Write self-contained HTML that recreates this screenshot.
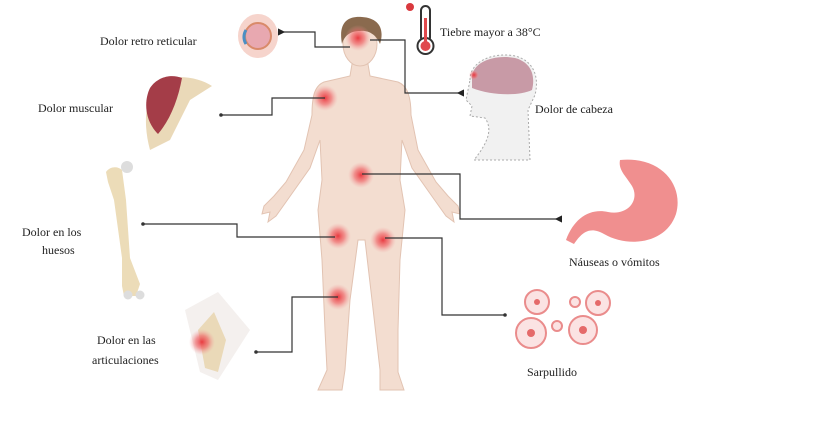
<!DOCTYPE html>
<html><head><meta charset="utf-8"><style>
html,body{margin:0;padding:0;background:#fff}
svg{display:block}
text{font-family:"Liberation Serif",serif;font-size:12px;fill:#222}
</style></head><body>
<svg width="836" height="446" viewBox="0 0 836 446" xmlns="http://www.w3.org/2000/svg">
<defs>
<radialGradient id="pain"><stop offset="0" stop-color="#e8333a" stop-opacity="0.95"/><stop offset="0.5" stop-color="#ef5a5e" stop-opacity="0.6"/><stop offset="1" stop-color="#f2a0a0" stop-opacity="0"/></radialGradient>
<marker id="ar" markerWidth="6" markerHeight="6" refX="1" refY="3" orient="auto-start-reverse"><path d="M6,0 L0,3 L6,6z" fill="#222"/></marker>
</defs>
<rect width="836" height="446" fill="#fff"/>
<!-- body -->
<g fill="#f3ddd0" stroke="#e2c3b2" stroke-width="1">
<path d="M352,64 L368,64 L370,76 L398,82 C408,86 411,98 411,115 L418,150 L436,182 L448,196 L458,206 L460,214 L452,212 L454,222 L446,216 L436,202 L412,168 L402,140 L400,180 L405,210 L400,260 L398,330 L398,372 L404,390 L380,390 L380,370 L372,300 L365,240 L358,240 L350,300 L345,370 L342,390 L318,390 L327,370 L325,330 L322,260 L318,210 L322,180 L320,140 L310,168 L286,202 L276,216 L268,222 L270,212 L262,214 L264,206 L274,196 L286,182 L304,150 L312,115 C312,98 314,86 324,82 L350,76 Z"/>
<ellipse cx="360" cy="44" rx="17" ry="22"/>
</g>
<path d="M342,44 C338,22 348,16 362,17 C378,18 385,28 380,44 C376,34 368,30 360,31 C350,31 344,36 342,44Z" fill="#8a6a4e"/>
<g>
<circle cx="358" cy="38" r="13" fill="url(#pain)"/>
<circle cx="325" cy="98" r="13" fill="url(#pain)"/>
<circle cx="361" cy="175" r="13" fill="url(#pain)"/>
<circle cx="338" cy="236" r="13" fill="url(#pain)"/>
<circle cx="383" cy="240" r="13" fill="url(#pain)"/>
<circle cx="338" cy="297" r="13" fill="url(#pain)"/>
</g>
<!-- connectors -->
<g fill="none" stroke="#333" stroke-width="1.2">
<path d="M350,47 L315,47 L315,32 L284,32" marker-end="url(#ar)"/>
<path d="M370,40 L405,40 L405,93 L458,93" marker-end="url(#ar)"/>
<path d="M325,98 L272,98 L272,115 L221,115"/>
<path d="M362,174 L460,174 L460,219 L556,219" marker-end="url(#ar)"/>
<path d="M335,237 L237,237 L237,224 L143,224"/>
<path d="M385,238 L442,238 L442,315 L505,315"/>
<path d="M338,297 L292,297 L292,352 L256,352"/>
</g>
<g fill="#333"><circle cx="221" cy="115" r="1.8"/><circle cx="143" cy="224" r="1.8"/><circle cx="505" cy="315" r="1.8"/><circle cx="256" cy="352" r="1.8"/></g>
<!-- eye -->
<ellipse cx="258" cy="36" rx="20" ry="22" fill="#f6d4cc"/>
<circle cx="258" cy="36" r="13" fill="#e8a8b0" stroke="#d98a6a" stroke-width="2"/>
<path d="M246,30 A13,13 0 0 0 246,44" stroke="#4b8fc4" stroke-width="3" fill="none"/>
<!-- thermometer -->
<circle cx="410" cy="7" r="4" fill="#d9393e"/>
<rect x="421" y="6" width="9" height="36" rx="4.5" fill="#fff" stroke="#333" stroke-width="2"/>
<circle cx="425.5" cy="46" r="8" fill="#fff" stroke="#333" stroke-width="2"/>
<circle cx="425.5" cy="46" r="5" fill="#e0494d"/><rect x="424" y="18" width="3" height="26" fill="#e0494d"/>
<text x="440" y="36">Tiebre mayor a 38°C</text>
<!-- head profile -->
<path d="M470,80 C470,60 495,52 515,56 C532,60 540,75 535,95 L528,110 L530,160 L474,160 C490,140 492,128 485,118 L470,116 L472,106 L466,100 Z" fill="#f1f1f1" stroke="#aaa" stroke-dasharray="2,2"/>
<path d="M472,80 C470,62 495,54 515,58 C530,62 536,74 532,90 C520,96 492,96 472,88Z" fill="#c89aa6"/>
<circle cx="474" cy="75" r="5" fill="url(#pain)"/>
<text x="535" y="113">Dolor de cabeza</text>
<!-- stomach -->
<path d="M620,160 C662,156 684,186 676,214 C666,244 628,248 604,234 C590,226 582,232 574,244 L566,240 C574,218 590,208 608,212 C628,216 640,200 632,186 C626,176 618,170 620,160Z" fill="#f08f8f"/>
<text x="569" y="266">Náuseas o vómitos</text>
<!-- rash -->
<g fill="#fbe3e3" stroke="#ea8c8c" stroke-width="2">
<circle cx="537" cy="302" r="12"/><circle cx="598" cy="303" r="12"/><circle cx="531" cy="333" r="15"/><circle cx="583" cy="330" r="14"/><circle cx="575" cy="302" r="5"/><circle cx="557" cy="326" r="5"/></g>
<g fill="#e56a6a"><circle cx="537" cy="302" r="3"/><circle cx="598" cy="303" r="3"/><circle cx="531" cy="333" r="4"/><circle cx="583" cy="330" r="4"/></g>
<text x="527" y="376">Sarpullido</text>
<!-- muscle -->
<path d="M160,80 C180,74 200,78 212,86 L190,100 L170,140 L150,150 C142,120 146,95 160,80Z" fill="#ead9b8"/>
<path d="M150,88 C158,76 172,74 182,78 C178,100 170,120 158,134 C144,120 144,100 150,88Z" fill="#a43d48"/>
<text x="38" y="112">Dolor muscular</text>
<text x="100" y="45">Dolor retro reticular</text>
<!-- bone -->
<path d="M106,172 C110,166 118,166 122,170 L126,200 L130,258 L140,284 L136,296 L124,296 L122,286 L122,258 L114,200 L108,182Z" fill="#ecdcb8"/>
<circle cx="127" cy="167" r="6" fill="#ddd"/><circle cx="128" cy="295" r="4.5" fill="#ddd"/><circle cx="140" cy="295" r="4.5" fill="#ddd"/>
<text x="22" y="236">Dolor en los</text>
<text x="42" y="254">huesos</text>
<!-- knee -->
<path d="M185,310 L218,292 L250,330 L218,380 L200,372 Z" fill="#f4f0ee"/>
<path d="M198,330 L214,312 L226,340 L218,372 L205,368 Z" fill="#ead9b8"/>
<circle cx="202" cy="342" r="13" fill="url(#pain)"/>
<text x="97" y="344">Dolor en las</text>
<text x="92" y="364">articulaciones</text>
</svg>
</body></html>
